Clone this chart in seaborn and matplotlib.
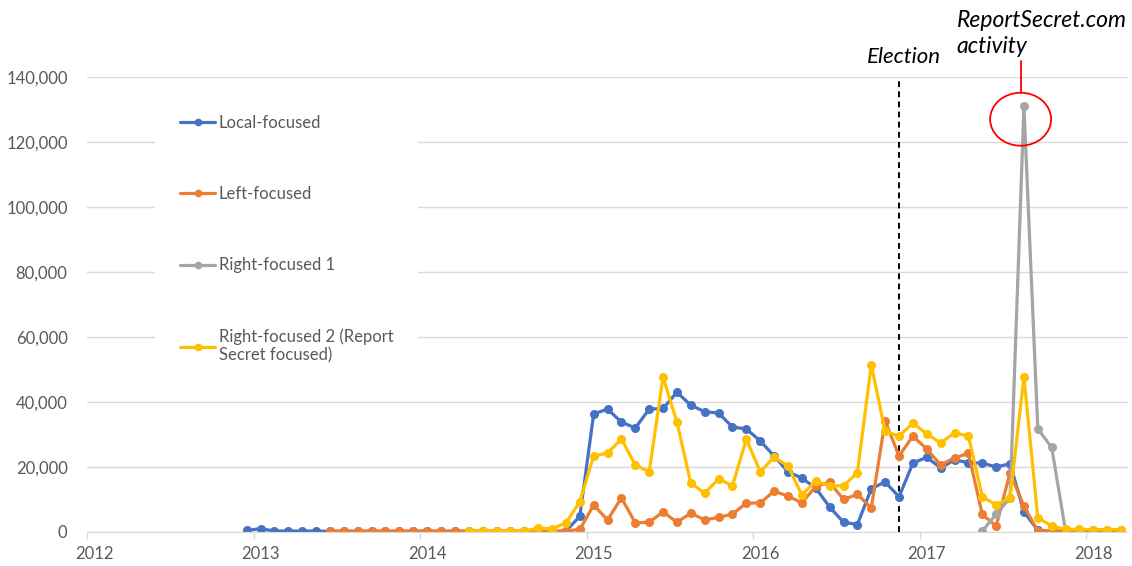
import pandas as pd
import seaborn as sns
import matplotlib.pyplot as plt
from matplotlib.lines import Line2D
from matplotlib.patches import Ellipse
from matplotlib.ticker import FuncFormatter

# --- data (monthly values) ---
series_names = ["Local-focused", "Left-focused", "Right-focused 1",
                "Right-focused 2 (Report\nSecret focused)"]
series_colors = ["#4472C4", "#ED7D31", "#A5A5A5", "#FFC000"]

local_start = "2012-12"
local_values = [500,
                1000, 300, 300, 300, 300, 200, 200, 200, 200, 200, 200, 200,
                200, 200, 200, 200, 200, 200, 200, 200, 200, 200, 300, 4800,
                36300, 37800, 33800, 32000, 37800, 38000, 43000, 39000, 37000, 36600, 32300, 31700,
                28000, 23400, 18500, 16600, 13500, 7700, 3000, 2300, 13300, 15400, 10800, 21200,
                23000, 19700, 22200, 21300, 21200, 20000, 21000, 6200, 500, 200, 100, 100,
                100, 100, 100]

left_start = "2013-06"
left_values = [300, 300, 300, 300, 300, 300, 300,
               300, 300, 300, 300, 300, 300, 300, 300, 300, 300, 300, 800,
               8300, 3700, 10500, 2800, 3000, 6200, 3000, 5800, 3700, 4500, 5500, 8900,
               8900, 12600, 11000, 9000, 14000, 15300, 10000, 11600, 7400, 34200, 23400, 29500,
               25500, 20600, 22800, 24200, 5400, 1800, 18300, 7900, 300, 300, 400, 500,
               600, 600, 600]

right1_start = "2017-05"
right1_values = [300, 5500, 10500, 131000, 31700, 26000, 300]

right2_start = "2014-04"
right2_values = [300, 300, 300, 300, 300, 1200, 1000, 2800, 9300,
                 23400, 24300, 28600, 20600, 18500, 47700, 33800, 15000, 12000, 16300, 14200, 28600,
                 18500, 23000, 20300, 11400, 15700, 14200, 14200, 18200, 51400, 31000, 29500, 33500,
                 30200, 27400, 30500, 29500, 10900, 8300, 10600, 47700, 4300, 1900, 800, 800,
                 700, 700, 700]

years = [2012, 2013, 2014, 2015, 2016, 2017, 2018]
y_ticks = [0, 20000, 40000, 60000, 80000, 100000, 120000, 140000]
election_month = "2016-11"
peak_month = "2017-08"


def month_center(start, n=1):
    # Excel date axis: points sit in the middle of each month slot
    p = pd.period_range(start, periods=n, freq="M")
    return list(p.year + (p.month - 1) / 12 + 1 / 24)


frames = []
for name, start, vals in zip(series_names,
                             [local_start, left_start, right1_start, right2_start],
                             [local_values, left_values, right1_values, right2_values]):
    frames.append(pd.DataFrame({"x": month_center(start, len(vals)),
                                "value": vals, "series": name}))
df = pd.concat(frames, ignore_index=True)

sns.set_style("white")
plt.rcParams["font.family"] = ["Lato", "DejaVu Sans"]
grey_text = "#595959"
grid_col = "#D9D9D9"

fig = plt.figure(figsize=(11.32, 5.66), dpi=100)
ax = fig.add_axes([0.0769, 0.0601, 0.9196, 0.8039])

sns.lineplot(data=df, x="x", y="value", hue="series", hue_order=series_names,
             palette=series_colors, estimator=None, sort=False, ax=ax,
             marker="o", markersize=6.5, markeredgewidth=0, linewidth=2.3, legend=False)

ax.set_xlim(2012, 2018.25)
ax.set_ylim(0, 140000)
ax.set_xlabel("")
ax.set_ylabel("")

# y axis
ax.set_yticks(y_ticks)
ax.yaxis.set_major_formatter(FuncFormatter(lambda v, p: f"{v:,.0f}"))
ax.tick_params(axis="y", length=0, pad=14, labelsize=12, labelcolor=grey_text)
ax.yaxis.grid(True, color=grid_col, lw=1)
ax.set_axisbelow(True)

# x axis: labels at January, tick marks at year boundaries
ax.set_xticks([y + 1 / 24 for y in years])
ax.set_xticklabels([str(y) for y in years])
ax.set_xticks(years, minor=True)
ax.tick_params(axis="x", which="major", length=0, pad=10, labelsize=12, labelcolor=grey_text)
ax.tick_params(axis="x", which="minor", length=5, width=1, color=grid_col, bottom=True)

for side in ["top", "right", "left"]:
    ax.spines[side].set_visible(False)
ax.spines["bottom"].set_color(grid_col)

# election marker
elec_x = month_center(election_month)[0]
ax.axvline(elec_x, color="black", lw=1.4, ls=(0, (3, 2.2)), zorder=1)
ax.text(elec_x + 0.03, 144300, "Election", ha="center", va="baseline",
        fontsize=16, style="italic", color="black", clip_on=False)

# ReportSecret.com callout
peak_x = month_center(peak_month)[0]
ax.add_patch(Ellipse((peak_x - 0.02, 127000), 0.366, 16300, fill=False,
                     edgecolor="#FF0000", lw=1.3, clip_on=False, zorder=5))
ax.plot([peak_x - 0.02, peak_x - 0.02], [135200, 144800], color="#FF0000",
        lw=1.3, clip_on=False)
ax.text(peak_x - 0.405, 146000, "ReportSecret.com\nactivity", ha="left", va="bottom",
        fontsize=16.5, style="italic", color="black", linespacing=1.35, clip_on=False)

# legend
handles = [Line2D([], [], color=c, lw=2.3, marker="o", markersize=5.5, markeredgewidth=0)
           for c in series_colors]
leg = ax.legend(handles, series_names, loc="upper left",
                bbox_to_anchor=(147 / 1132, 1 - 82 / 566), bbox_transform=fig.transFigure,
                frameon=True, facecolor="white", edgecolor="none", framealpha=1,
                fontsize=12, labelspacing=3.3, handlelength=2.1, handletextpad=0.2,
                borderpad=1.5, labelcolor=grey_text)

fig.savefig("out.png", dpi=100)
